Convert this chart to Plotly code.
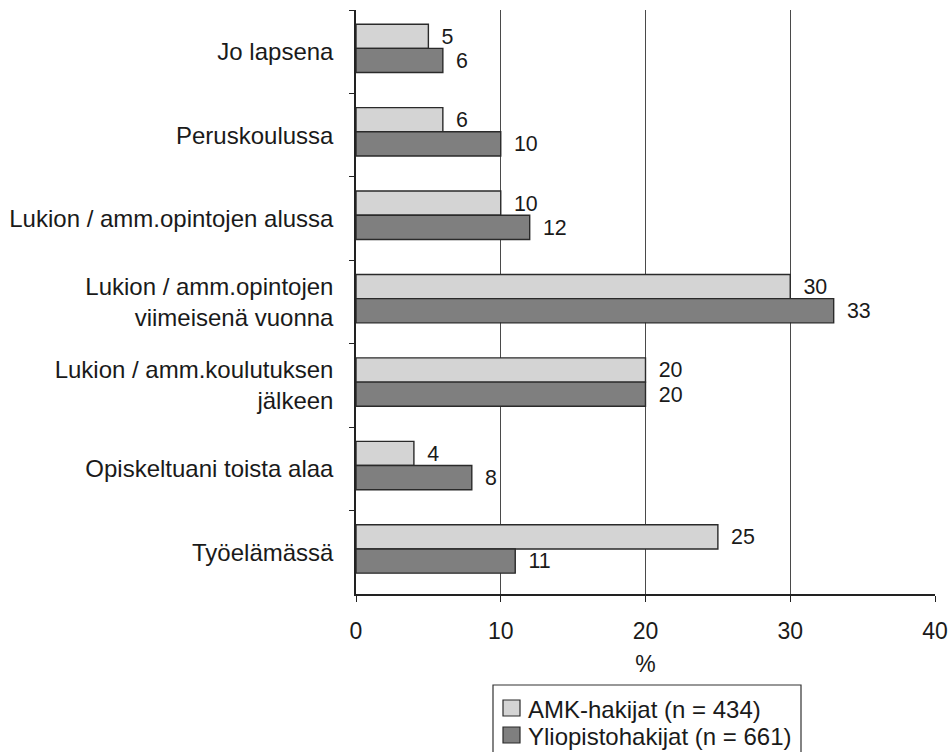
import plotly.graph_objects as go

categories = [
    "Jo lapsena",
    "Peruskoulussa",
    "Lukion / amm.opintojen alussa",
    "Lukion / amm.opintojen<br>viimeisenä vuonna",
    "Lukion / amm.koulutuksen<br>jälkeen",
    "Opiskeltuani toista alaa",
    "Työelämässä",
]
amk = [5, 6, 10, 30, 20, 4, 25]
yliopisto = [6, 10, 12, 33, 20, 8, 11]
series_names = ["AMK-hakijat (n = 434)", "Yliopistohakijat (n = 661)"]
x_ticks = [0, 10, 20, 30, 40]

font = "Liberation Sans, Arial, sans-serif"
txt = "#1a1a1a"
colors = ["#d4d4d4", "#7f7f7f"]

# plot area in window pixels: x 356..935, y 10..594
def px(x):
    return (x - 356) / 579.0


def py(y):
    return (594 - y) / 584.0


fig = go.Figure()
for name, vals, col, off in [(series_names[0], amk, colors[0], -0.33),
                             (series_names[1], yliopisto, colors[1], -0.04)]:
    fig.add_trace(
        go.Bar(y=categories,
               x=vals,
               name=name,
               orientation="h",
               offset=off,
               width=0.29,
               marker=dict(color=col, line=dict(color="#2a2a2a", width=1.4)),
               text=["\u00a0\u2009" + str(v) for v in vals],
               textposition="outside",
               textfont=dict(family=font, size=23, color=txt),
               cliponaxis=False,
               showlegend=False))

# legend box drawn by hand (Excel style), runs off the bottom edge
shapes = [dict(type="rect", xref="paper", yref="paper",
               x0=px(493), x1=px(801), y0=py(775), y1=py(685),
               line=dict(color="#333333", width=1.2), fillcolor="white",
               layer="above")]
annotations = []
for i, (name, col) in enumerate(zip(series_names, colors)):
    top = 700 + i * 27
    shapes.append(dict(type="rect", xref="paper", yref="paper",
                       x0=px(503), x1=px(520), y0=py(top + 16), y1=py(top),
                       line=dict(color="#2a2a2a", width=1.2), fillcolor=col,
                       layer="above"))
    annotations.append(dict(xref="paper", yref="paper", x=px(526),
                            y=py(top + 9), xanchor="left", yanchor="middle",
                            text=name, showarrow=False,
                            font=dict(family=font, size=24, color=txt)))

fig.update_layout(
    width=951,
    height=752,
    barmode="group",
    plot_bgcolor="white",
    paper_bgcolor="white",
    margin=dict(l=356, r=16, t=10, b=158),
    font=dict(family=font, size=23, color=txt),
    showlegend=False,
    shapes=shapes,
    annotations=annotations,
    xaxis=dict(range=[0, 40],
               tickvals=x_ticks,
               automargin=False,
               showgrid=True,
               gridcolor="#4a4a4a",
               gridwidth=1,
               zeroline=False,
               showline=True,
               linecolor="#222222",
               linewidth=1.5,
               ticks="outside",
               ticklen=6,
               tickcolor="#222222",
               tickfont=dict(size=23),
               ticklabelstandoff=10,
               title=dict(text="%", font=dict(size=23), standoff=13)),
    yaxis=dict(autorange="reversed",
               automargin=False,
               showline=True,
               linecolor="#222222",
               linewidth=1.5,
               ticks="outside",
               tickson="boundaries",
               ticklen=5,
               tickcolor="#222222",
               showgrid=False,
               tickfont=dict(size=24),
               ticklabelstandoff=16),
)

# drop the default 8px body margin so the figure fills the window exactly
fig.write_html("out.html",
               config={"displayModeBar": False},
               post_script="document.body.style.margin='0';"
               "document.body.style.overflow='hidden';")
